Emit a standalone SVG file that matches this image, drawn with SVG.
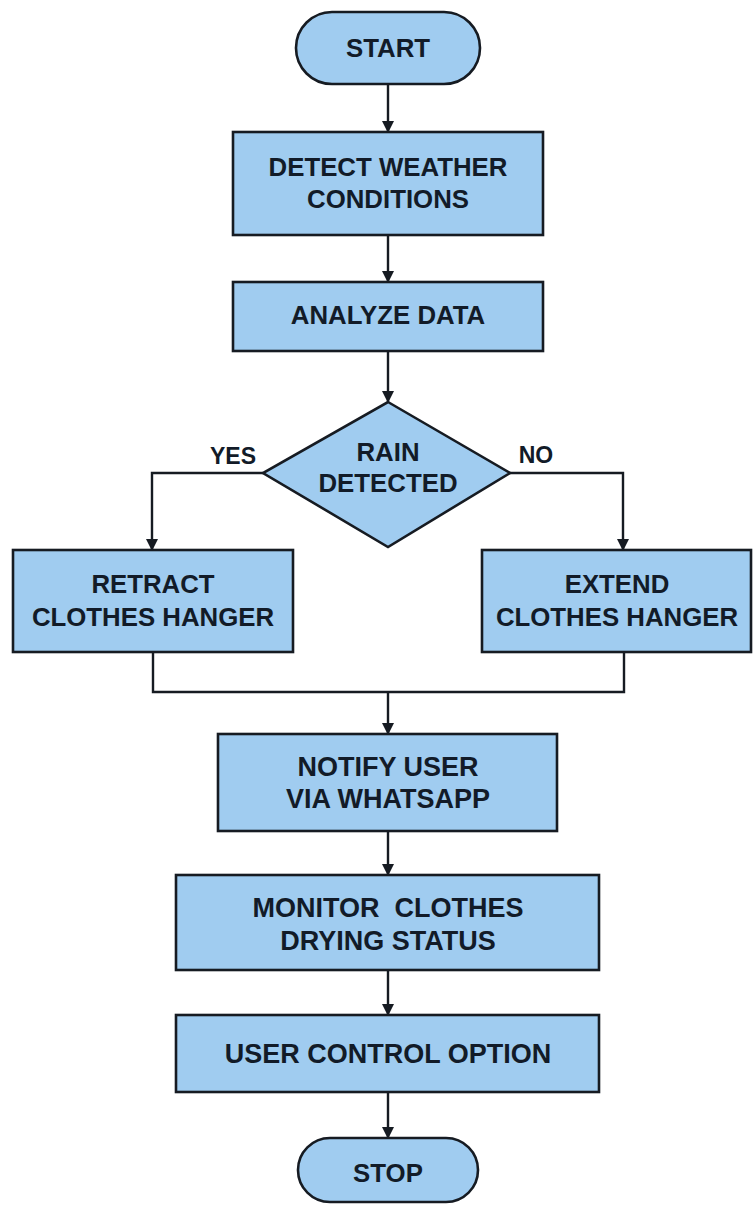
<svg xmlns="http://www.w3.org/2000/svg" width="753" height="1205" viewBox="0 0 753 1205">
<style>
.n{fill:#a0ccf0;stroke:#161b22;stroke-width:2.6}
.t{font-family:"Liberation Sans",Arial,sans-serif;font-weight:bold;fill:#121b28;text-anchor:middle}
.s{font-size:25.8px}
.b{font-size:27px}
.l{font-size:23px}
.c{fill:none;stroke:#161b22;stroke-width:2.4}
</style>
<defs>
<marker id="ah" markerWidth="12" markerHeight="12" refX="11" refY="6" orient="auto" markerUnits="userSpaceOnUse">
<path d="M0,0 L12,6 L0,12 z" fill="#161b22"/>
</marker>
</defs>
<rect width="753" height="1205" fill="#ffffff"/>
<g id="connectors">
<line class="c" x1="388" y1="84" x2="388" y2="132" marker-end="url(#ah)"/>
<line class="c" x1="388" y1="235" x2="388" y2="282" marker-end="url(#ah)"/>
<line class="c" x1="388" y1="351" x2="388" y2="402" marker-end="url(#ah)"/>
<polyline class="c" points="263,473 152,473 152,550" marker-end="url(#ah)"/>
<polyline class="c" points="510,473 623,473 623,550" marker-end="url(#ah)"/>
<polyline class="c" points="153,652 153,692 624,692 624,652"/>
<line class="c" x1="388" y1="692" x2="388" y2="734" marker-end="url(#ah)"/>
<line class="c" x1="388" y1="831" x2="388" y2="875" marker-end="url(#ah)"/>
<line class="c" x1="388" y1="970" x2="388" y2="1015" marker-end="url(#ah)"/>
<line class="c" x1="388" y1="1092" x2="388" y2="1138" marker-end="url(#ah)"/>
<text class="t l" x="233" y="464">YES</text>
<text class="t l" x="536" y="463">NO</text>
</g>
<g id="start">
<rect class="n" x="296" y="12" width="184" height="72" rx="36"/>
<text class="t s" x="388" y="57">START</text>
</g>
<g id="detect">
<rect class="n" x="233" y="132" width="310" height="103"/>
<text class="t s" x="388" y="176">DETECT WEATHER</text>
<text class="t s" x="388" y="208">CONDITIONS</text>
</g>
<g id="analyze">
<rect class="n" x="233" y="282" width="310" height="69"/>
<text class="t s" x="388" y="324">ANALYZE DATA</text>
</g>
<g id="rain">
<polygon class="n" points="388,402 510,473 388,547 263,473"/>
<text class="t s" x="388" y="461">RAIN</text>
<text class="t s" x="388" y="492">DETECTED</text>
</g>
<g id="retract">
<rect class="n" x="13" y="550" width="280" height="102"/>
<text class="t s" x="153" y="593">RETRACT</text>
<text class="t s" x="153" y="626">CLOTHES HANGER</text>
</g>
<g id="extend">
<rect class="n" x="482" y="550" width="269" height="102"/>
<text class="t s" x="617" y="593">EXTEND</text>
<text class="t s" x="617" y="626">CLOTHES HANGER</text>
</g>
<g id="notify">
<rect class="n" x="218" y="734" width="339" height="97"/>
<text class="t b" x="388" y="776">NOTIFY USER</text>
<text class="t b" x="388" y="808">VIA WHATSAPP</text>
</g>
<g id="monitor">
<rect class="n" x="176" y="875" width="423" height="95"/>
<text class="t b" x="388" y="917" xml:space="preserve">MONITOR  CLOTHES</text>
<text class="t b" x="388" y="950">DRYING STATUS</text>
</g>
<g id="control">
<rect class="n" x="176" y="1015" width="423" height="77"/>
<text class="t b" x="388" y="1063">USER CONTROL OPTION</text>
</g>
<g id="stop">
<rect class="n" x="298" y="1138" width="180" height="64" rx="32"/>
<text class="t s" x="388" y="1182">STOP</text>
</g>
</svg>
